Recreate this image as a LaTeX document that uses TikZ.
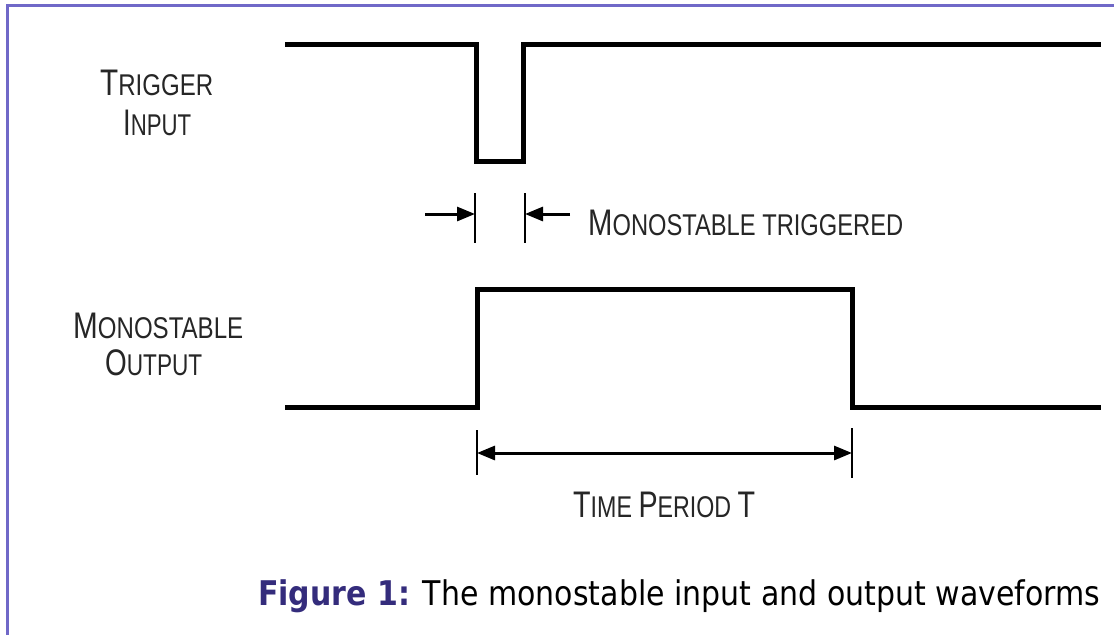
\documentclass[tikz,border=0pt]{standalone}
\usepackage{fontspec}
\usepackage{graphicx}
\setmainfont{Liberation Sans}
\newfontfamily\capfont{DejaVu Sans}
\usetikzlibrary{arrows.meta}
\definecolor{framecol}{RGB}{112,104,200}
\definecolor{figblue}{RGB}{52,44,124}
\newcommand\BC[1]{{\fontsize{37}{37}\selectfont #1}}
\newcommand\scfit[2]{\resizebox{#1}{\height}{\fontsize{30}{30}\selectfont #2}}
\tikzset{
  wave/.style={line width=5pt, line join=miter, line cap=butt},
  tick/.style={line width=2.5pt},
  dim/.style={line width=3pt, -{Triangle[length=18pt,width=14pt]}},
  dimboth/.style={line width=3pt, {Triangle[length=18pt,width=14pt]}-{Triangle[length=18pt,width=14pt]}},
  lbl/.style={inner sep=0pt, anchor=base west, text=black!85},
  frame/.style={framecol, line width=3pt}
}
\begin{document}
\begin{tikzpicture}[x=1pt,y=-1pt]
\useasboundingbox (0,0) rectangle (1114,635);
\fill[white] (0,0) rectangle (1114,635);
% frame (top and left only)
\coordinate (fTL) at (7,5);
\coordinate (fTR) at (1114,5);
\coordinate (fBL) at (7,635);
\draw[frame] (fTR) -- (fTL) -- (fBL);

% trigger waveform
\coordinate (t0) at (285,44);
\coordinate (t1) at (476,44);
\coordinate (t2) at (476,161);
\coordinate (t3) at (523,161);
\coordinate (t4) at (523,44);
\coordinate (t5) at (1101,44);
\draw[wave] (t0) -- (t1) -- (t2) -- (t3) -- (t4) -- (t5);

% output waveform
\coordinate (o0) at (285,407);
\coordinate (o1) at (477,407);
\coordinate (o2) at (477,289);
\coordinate (o3) at (852,289);
\coordinate (o4) at (852,407);
\coordinate (o5) at (1101,407);
\draw[wave] (o0) -- (o1) -- (o2) -- (o3) -- (o4) -- (o5);

% monostable triggered marker
\coordinate (m1a) at (475,193);
\coordinate (m1b) at (475,243);
\coordinate (m2a) at (525,193);
\coordinate (m2b) at (525,243);
\draw[tick] (m1a) -- (m1b);
\draw[tick] (m2a) -- (m2b);
\coordinate (ma) at (425,214);
\coordinate (mae) at (475,214);
\coordinate (mb) at (570,214);
\coordinate (mbe) at (525,214);
\draw[dim] (ma) -- (mae);
\draw[dim] (mb) -- (mbe);

% time period marker
\coordinate (p1a) at (477,430);
\coordinate (p1b) at (477,475);
\coordinate (p2a) at (852,428);
\coordinate (p2b) at (852,478);
\draw[tick] (p1a) -- (p1b);
\draw[tick] (p2a) -- (p2b);
\coordinate (pl) at (477,453);
\coordinate (pr) at (852,453);
\draw[dimboth] (pl) -- (pr);

% labels
\node[lbl] (trig) at (100,95) {\scfit{113pt}{\BC{T}RIGGER}};
\node[lbl] (inp) at (123,135) {\scfit{68pt}{\BC{I}NPUT}};
\node[lbl] (mono) at (73,338) {\scfit{170pt}{\BC{M}ONOSTABLE}};
\node[lbl] (outp) at (105,375) {\scfit{97pt}{\BC{O}UTPUT}};
\node[lbl] (mtrig) at (588,235) {\scfit{315pt}{\BC{M}ONOSTABLE TRIGGERED}};
\node[lbl] (tper) at (573,517) {\scfit{182pt}{\BC{T}IME \BC{P}ERIOD \BC{T}}};

% caption
\node[inner sep=0pt, anchor=base west] (cap) at (258,605)
  {\resizebox{842pt}{\height}{\capfont\fontsize{34}{34}\selectfont{\bfseries\color{figblue}Figure 1:} The monostable input and output waveforms}};
\end{tikzpicture}
\end{document}
